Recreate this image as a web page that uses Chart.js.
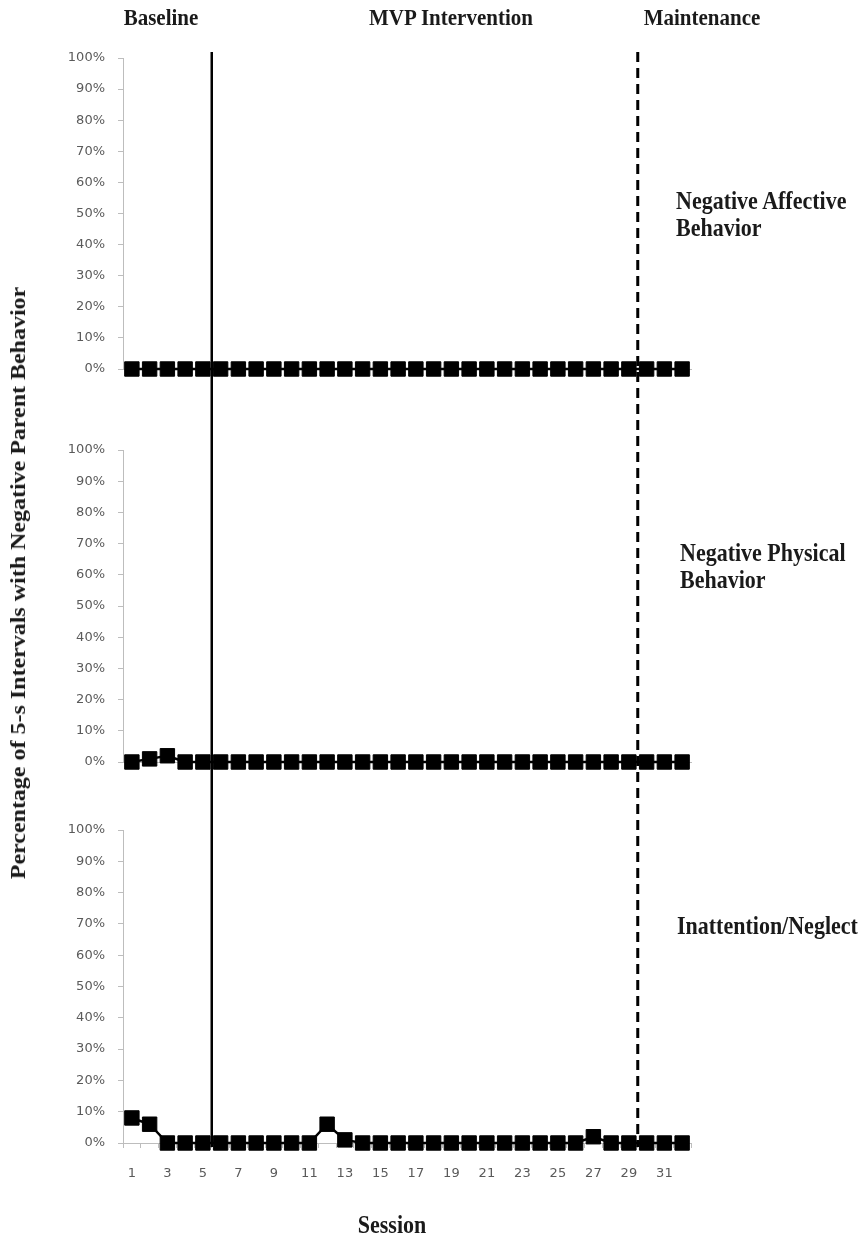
<!DOCTYPE html>
<html>
<head>
<meta charset="utf-8">
<script src="https://cdn.jsdelivr.net/npm/chart.js@4/dist/chart.umd.min.js"></script>
<style>
  html, body { margin:0; padding:0; background:#fff; }
  #page { position:relative; width:864px; height:1239px; overflow:hidden; background:#fff; }
  #page canvas { position:absolute; left:0; }
  .t { position:absolute; white-space:nowrap; font-family:"Liberation Serif","Times New Roman",serif;
       font-weight:bold; color:#1a1a1a; }
  .c { transform:translate(-50%,-50%) scaleY(1.12); }
  .l { transform:translate(0,-50%) scaleY(1.12); }
</style>
</head>
<body>
<div id="page">
  <canvas id="p1" width="864" height="400" style="top:0px"></canvas>
  <canvas id="p2" width="864" height="400" style="top:400px"></canvas>
  <canvas id="p3" width="864" height="439" style="top:800px"></canvas>

  <div class="t c" id="ph0" style="font-size:21px; left:161px; top:18px"></div>
  <div class="t c" id="ph1" style="font-size:21px; left:451px; top:18px"></div>
  <div class="t c" id="ph2" style="font-size:21px; left:702px; top:18px"></div>

  <div class="t l" id="lab0a" style="font-size:22px; left:676px; top:201px"></div>
  <div class="t l" id="lab0b" style="font-size:22px; left:676px; top:228px"></div>
  <div class="t l" id="lab1a" style="font-size:22px; left:680px; top:553px"></div>
  <div class="t l" id="lab1b" style="font-size:22px; left:680px; top:580px"></div>
  <div class="t l" id="lab2a" style="font-size:22px; left:677px; top:926px"></div>

  <div class="t c" id="xtitle" style="font-size:22px; left:392px; top:1225px"></div>
  <div class="t" id="ytitle" style="font-size:22px; left:18px; top:583px;
       transform:translate(-50%,-50%) rotate(-90deg) scaleX(1.09)"></div>
</div>

<script>
// --- data ---
const sessions = [1,2,3,4,5,6,7,8,9,10,11,12,13,14,15,16,17,18,19,20,21,22,23,24,25,26,27,28,29,30,31,32];
const affective = [0,0,0,0,0,0,0,0,0,0,0,0,0,0,0,0,0,0,0,0,0,0,0,0,0,0,0,0,0,0,0,0];
const physical  = [0,1,2,0,0,0,0,0,0,0,0,0,0,0,0,0,0,0,0,0,0,0,0,0,0,0,0,0,0,0,0,0];
const neglect   = [8,6,0,0,0,0,0,0,0,0,0,6,1,0,0,0,0,0,0,0,0,0,0,0,0,0,2,0,0,0,0,0];
const phaseNames = ['Baseline', 'MVP Intervention', 'Maintenance'];
const phaseStarts = [1, 6, 30];          // first session of each phase
const panelNames = [['Negative Affective', 'Behavior'], ['Negative Physical', 'Behavior'], ['Inattention/Neglect']];
const yTitle = 'Percentage of 5-s Intervals with Negative Parent Behavior';
const xTitle = 'Session';

// --- text ---
const el = (id) => document.getElementById(id);
phaseNames.forEach((n, i) => { el('ph' + i).textContent = n; });
panelNames.forEach((lines, i) => {
  el('lab' + i + 'a').textContent = lines[0];
  if (lines[1]) el('lab' + i + 'b').textContent = lines[1];
});
el('xtitle').textContent = xTitle;
el('ytitle').textContent = yTitle;

// --- phase change lines, drawn on every panel so they look continuous ---
const LINE_TOP = 52, LINE_BOTTOM = 1147;
const lineStyles = [null, { width:2.5, dash:[] }, { width:3, dash:[10,6] }];

const phasePlugin = {
  id: 'phaseLines',
  afterDatasetsDraw(chart, args, opts) {
    const ctx = chart.ctx, x = chart.scales.x;
    const y0 = Math.max(LINE_TOP - opts.pageTop, 0);
    const y1 = Math.min(LINE_BOTTOM - opts.pageTop, chart.height);
    if (y1 <= y0) return;
    ctx.save();
    ctx.strokeStyle = '#000';
    phaseStarts.forEach((s, i) => {
      const st = lineStyles[i];
      if (!st) return;
      const px = x.getPixelForValue(s - 1.5);
      ctx.lineWidth = st.width;
      ctx.setLineDash(st.dash);
      ctx.lineDashOffset = opts.pageTop + y0 - LINE_TOP;
      ctx.beginPath();
      ctx.moveTo(px, y0);
      ctx.lineTo(px, y1);
      ctx.stroke();
    });
    ctx.restore();
  }
};

const GREY = '#bdbdbd', TICK_TXT = '#5a5a5a';
const tickFont = { family:'DejaVu Sans', size:13 };

function panel(id, values, pageTop, areaTop, xHeight, showX) {
  return new Chart(el(id), {
    type: 'line',
    data: {
      labels: sessions,
      datasets: [{
        data: values,
        borderColor: '#000',
        backgroundColor: '#000',
        borderWidth: 2.5,
        tension: 0,
        pointStyle: 'rect',
        pointRadius: 10.2,
        pointBorderWidth: 1,
        pointBackgroundColor: '#000',
        pointBorderColor: '#000',
        clip: false
      }]
    },
    options: {
      responsive: false,
      animation: false,
      devicePixelRatio: 1,
      layout: { autoPadding: false, padding: { top: areaTop, right: 173, left: 0, bottom: 0 } },
      plugins: { legend: { display:false }, tooltip: { enabled:false }, phaseLines: { pageTop } },
      scales: {
        x: {
          type: 'category',
          offset: true,
          grid: { offset:true, drawOnChartArea:false, drawTicks:showX, tickLength:5, color:GREY },
          border: { color:GREY },
          ticks: {
            display: showX, autoSkip:false, maxRotation:0, padding:18, color:TICK_TXT, font:tickFont,
            callback(v, i) { return i % 2 === 0 ? this.getLabelForValue(v) : ''; }
          },
          afterFit(s) { s.height = xHeight; }
        },
        y: {
          min: 0, max: 100,
          grid: { drawOnChartArea:false, tickLength:5, color:GREY },
          border: { color:GREY },
          ticks: { stepSize:10, padding:13, color:TICK_TXT, font:tickFont, callback: v => v + '%' },
          afterFit(s) { s.width = 123; }
        }
      }
    },
    plugins: [phasePlugin]
  });
}

panel('p1', affective, 0,   58, 31, false);
panel('p2', physical,  400, 50, 38, false);
panel('p3', neglect,   800, 30, 96, true);
</script>
</body>
</html>
